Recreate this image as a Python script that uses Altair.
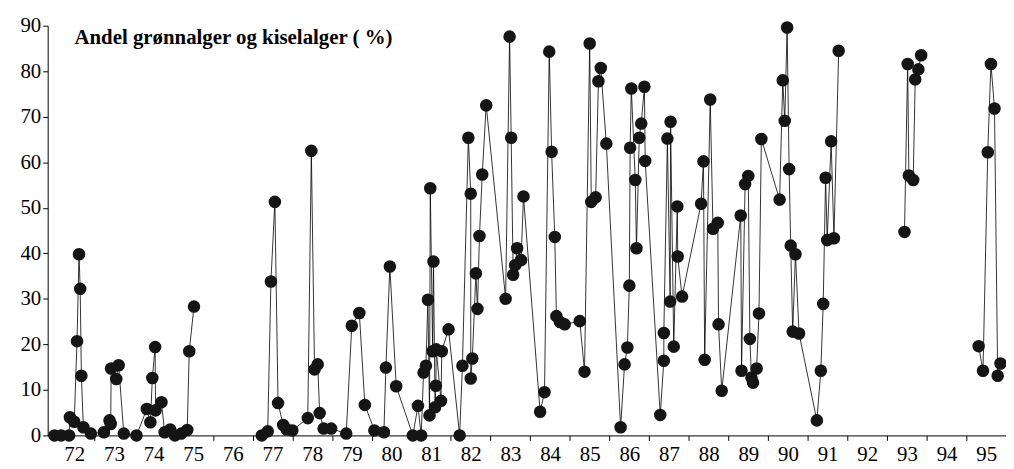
import altair as alt
import pandas as pd

# (decimal year, percent), in the order the line runs
seg_a_year = [72.0, 72.17, 72.37, 72.39, 72.5, 72.57, 72.62, 72.65, 72.68, 72.73, 72.92, 73.25, 73.39, 73.42,
              73.43, 73.56, 73.62, 73.75, 74.07, 74.33, 74.42, 74.47, 74.54, 74.55, 74.7, 74.78, 74.92, 75.04,
              75.2, 75.35, 75.4, 75.52]
seg_a_val = [0, 0, 0, 4, 3, 20.7, 39.8, 32.2, 13.1, 1.8, 0.4, 0.7, 3.3, 2.5,
             14.7, 12.4, 15.4, 0.4, 0, 5.8, 2.9, 12.6, 19.4, 5.5, 7.3, 0.7, 1.3, 0,
             0.4, 1.2, 18.5, 28.3]

seg_b_year = [77.23, 77.38, 77.46, 77.56, 77.64, 77.77, 77.86, 78.0, 78.39, 78.48, 78.56, 78.64, 78.69, 78.79,
              78.98, 79.36, 79.5, 79.69, 79.83, 80.07, 80.31, 80.36, 80.46, 80.62, 81.04, 81.17, 81.25, 81.31,
              81.37, 81.42, 81.46, 81.48, 81.54, 81.56, 81.6, 81.62, 81.63, 81.75, 81.77, 81.94, 82.22, 82.29,
              82.44, 82.5, 82.5, 82.54, 82.63, 82.67, 82.72, 82.79, 82.89, 83.38, 83.48, 83.52, 83.57, 83.62,
              83.67, 83.77, 83.83, 84.25, 84.36, 84.48, 84.54, 84.62, 84.66, 84.75, 84.87, 85.25, 85.37, 85.5,
              85.54, 85.65, 85.72, 85.78, 85.92, 86.28, 86.38, 86.45, 86.5, 86.52, 86.55, 86.65, 86.68, 86.75,
              86.8, 86.88, 86.9, 87.28, 87.37, 87.37, 87.46, 87.53, 87.54, 87.62, 87.71, 87.72, 87.83, 88.31,
              88.37, 88.4, 88.54, 88.61, 88.73, 88.75, 88.83, 89.31, 89.33, 89.42, 89.5, 89.54, 89.58, 89.62,
              89.71, 89.77, 89.83, 90.29, 90.37, 90.42, 90.48, 90.53, 90.57, 90.62, 90.69, 90.78, 91.23, 91.33,
              91.39, 91.45, 91.49, 91.59, 91.66, 91.78]
seg_b_val = [0, 0.9, 33.8, 51.3, 7.1, 2.3, 1.3, 1.1, 3.8, 62.5, 14.5, 15.6, 4.9, 1.5,
             1.5, 0.4, 24.1, 26.9, 6.7, 1.1, 0.7, 14.9, 37.1, 10.8, 0, 6.5, 0, 13.8,
             15.3, 29.8, 4.4, 54.3, 18.5, 38.2, 6.2, 10.9, 18.9, 7.6, 18.5, 23.3, 0, 15.3,
             65.4, 53.1, 12.5, 16.9, 35.6, 27.8, 43.8, 57.3, 72.5, 30.0, 87.6, 65.4, 35.3, 37.4,
             41.1, 38.5, 52.5, 5.2, 9.5, 84.3, 62.3, 43.6, 26.2, 24.9, 24.4, 25.1, 14.0, 86.1,
             51.3, 52.3, 77.8, 80.7, 64.1, 1.8, 15.6, 19.3, 32.9, 63.2, 76.2, 56.1, 41.1, 65.4,
             68.5, 76.6, 60.3, 4.5, 16.4, 22.5, 65.2, 29.4, 68.9, 19.5, 50.3, 39.3, 30.5, 50.9,
             60.2, 16.6, 73.8, 45.4, 46.7, 24.4, 9.8, 48.3, 14.2, 55.2, 57.0, 21.2, 12.7, 11.6,
             14.7, 26.8, 65.1, 51.8, 78.0, 69.1, 89.6, 58.5, 41.7, 22.8, 39.8, 22.4, 3.3, 14.2,
             28.9, 56.6, 42.9, 64.6, 43.3, 84.5]

seg_c_year = [93.44, 93.52, 93.55, 93.66, 93.71, 93.79, 93.86]
seg_c_val = [44.7, 81.6, 57.1, 56.1, 78.2, 80.4, 83.5]

seg_d_year = [95.31, 95.42, 95.54, 95.62, 95.71, 95.79, 95.86]
seg_d_val = [19.6, 14.2, 62.2, 81.6, 71.8, 13.1, 15.8]

tick_years = list(range(72, 96))

frames = []
for name, xs, ys in [("a", seg_a_year, seg_a_val), ("b", seg_b_year, seg_b_val),
                     ("c", seg_c_year, seg_c_val), ("d", seg_d_year, seg_d_val)]:
    frames.append(pd.DataFrame({"year": xs, "pct": ys, "seg": name, "order": range(len(xs))}))
df = pd.concat(frames, ignore_index=True)

font = "'Liberation Serif', 'DejaVu Serif', serif"
x = alt.X("year:Q", scale=alt.Scale(domain=[71.83, 96], nice=False, zero=False),
          axis=alt.Axis(values=tick_years, format="d", labelOffset=20, title=None, grid=False,
                        labelFontSize=21, labelFont=font, labelColor="black", tickColor="black",
                        domainColor="black", labelPadding=3))
y = alt.Y("pct:Q", scale=alt.Scale(domain=[0, 90], nice=False),
          axis=alt.Axis(values=list(range(0, 100, 10)), title=None, grid=False, labelFontSize=21,
                        labelFont=font, labelColor="black", tickColor="black", domainColor="black"))

base = alt.Chart(df)
lines = base.mark_line(color="black", strokeWidth=0.8).encode(x=x, y=y, detail="seg:N", order="order:Q")
dots = base.mark_circle(size=160, color="#151515", opacity=1).encode(x=x, y=y)
title = alt.Chart(pd.DataFrame({"t": ["Andel grønnalger og kiselalger ( %)"]})).mark_text(
    font=font, fontSize=21, fontWeight="bold", align="left", baseline="middle", color="black"
).encode(x=alt.value(27), y=alt.value(12), text="t:N")

chart = (lines + dots + title).properties(
    width=966, height=413, autosize=alt.AutoSizeParams(type="none"),
    padding={"left": 40, "top": 16, "right": 0, "bottom": 30},
).configure_view(stroke=None).configure_text(font=font)

chart.save("out.html", embed_options={"renderer": "svg", "actions": False})
